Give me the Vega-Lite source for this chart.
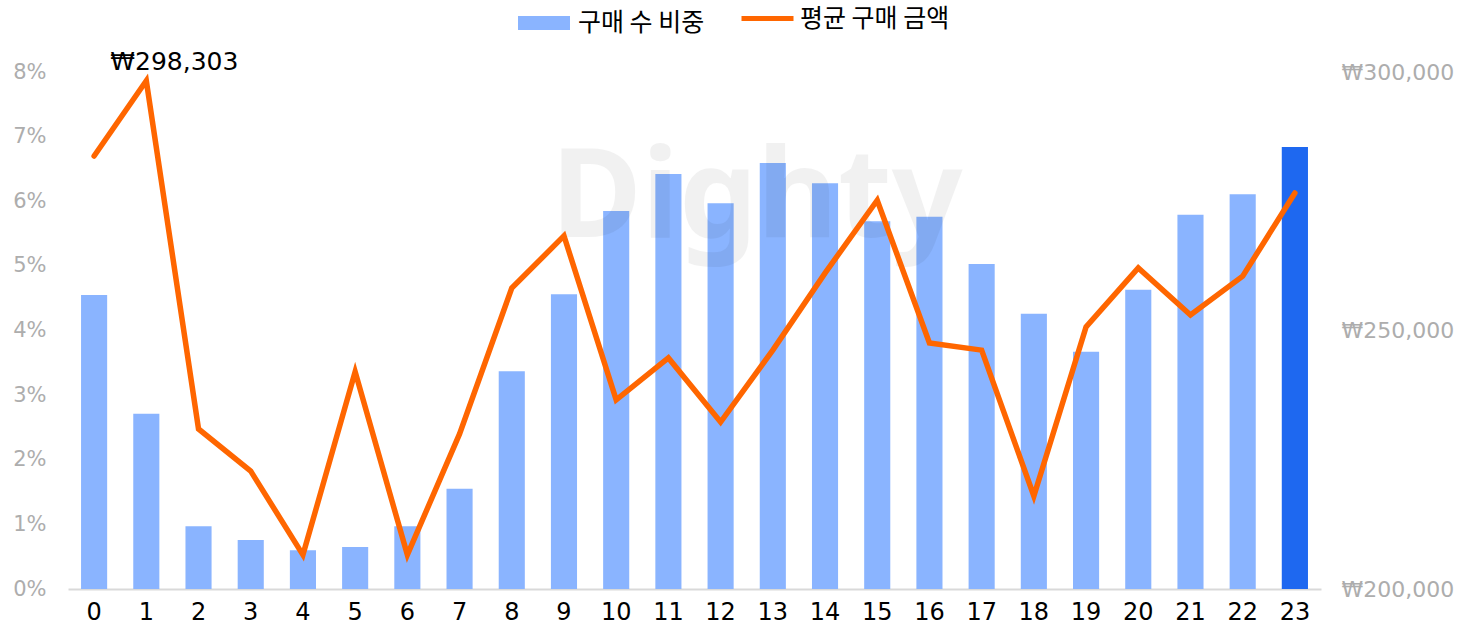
{
  "$schema": "https://vega.github.io/schema/vega-lite/v6.json",
  "width": 1253,
  "height": 517,
  "autosize": {"type": "none"},
  "padding": {"left": 68, "top": 72, "right": 150, "bottom": 45},
  "background": "#ffffff",
  "config": {
    "font": "DejaVu Sans",
    "view": {"stroke": null},
    "legend": {"padding": 0, "labelLimit": 400}
  },
  "data": {
    "values": [
      {"hour": 0, "share": 0.0455, "avg": 283750, "label": "", "s1": "구매 수 비중", "s2": "평균 구매 금액"},
      {"hour": 1, "share": 0.0271, "avg": 298303, "label": "₩298,303", "s1": "구매 수 비중", "s2": "평균 구매 금액"},
      {"hour": 2, "share": 0.0097, "avg": 230950, "label": "", "s1": "구매 수 비중", "s2": "평균 구매 금액"},
      {"hour": 3, "share": 0.0076, "avg": 222800, "label": "", "s1": "구매 수 비중", "s2": "평균 구매 금액"},
      {"hour": 4, "share": 0.0060, "avg": 206600, "label": "", "s1": "구매 수 비중", "s2": "평균 구매 금액"},
      {"hour": 5, "share": 0.0065, "avg": 242000, "label": "", "s1": "구매 수 비중", "s2": "평균 구매 금액"},
      {"hour": 6, "share": 0.0097, "avg": 206600, "label": "", "s1": "구매 수 비중", "s2": "평균 구매 금액"},
      {"hour": 7, "share": 0.0155, "avg": 230000, "label": "", "s1": "구매 수 비중", "s2": "평균 구매 금액"},
      {"hour": 8, "share": 0.0337, "avg": 258200, "label": "", "s1": "구매 수 비중", "s2": "평균 구매 금액"},
      {"hour": 9, "share": 0.0456, "avg": 268300, "label": "", "s1": "구매 수 비중", "s2": "평균 구매 금액"},
      {"hour": 10, "share": 0.0585, "avg": 236600, "label": "", "s1": "구매 수 비중", "s2": "평균 구매 금액"},
      {"hour": 11, "share": 0.0642, "avg": 244700, "label": "", "s1": "구매 수 비중", "s2": "평균 구매 금액"},
      {"hour": 12, "share": 0.0597, "avg": 232300, "label": "", "s1": "구매 수 비중", "s2": "평균 구매 금액"},
      {"hour": 13, "share": 0.0659, "avg": 246200, "label": "", "s1": "구매 수 비중", "s2": "평균 구매 금액"},
      {"hour": 14, "share": 0.0628, "avg": 261100, "label": "", "s1": "구매 수 비중", "s2": "평균 구매 금액"},
      {"hour": 15, "share": 0.0569, "avg": 275200, "label": "", "s1": "구매 수 비중", "s2": "평균 구매 금액"},
      {"hour": 16, "share": 0.0576, "avg": 247600, "label": "", "s1": "구매 수 비중", "s2": "평균 구매 금액"},
      {"hour": 17, "share": 0.0503, "avg": 246200, "label": "", "s1": "구매 수 비중", "s2": "평균 구매 금액"},
      {"hour": 18, "share": 0.0426, "avg": 218000, "label": "", "s1": "구매 수 비중", "s2": "평균 구매 금액"},
      {"hour": 19, "share": 0.0367, "avg": 250700, "label": "", "s1": "구매 수 비중", "s2": "평균 구매 금액"},
      {"hour": 20, "share": 0.0463, "avg": 262100, "label": "", "s1": "구매 수 비중", "s2": "평균 구매 금액"},
      {"hour": 21, "share": 0.0579, "avg": 253000, "label": "", "s1": "구매 수 비중", "s2": "평균 구매 금액"},
      {"hour": 22, "share": 0.0611, "avg": 260500, "label": "", "s1": "구매 수 비중", "s2": "평균 구매 금액"},
      {"hour": 23, "share": 0.0684, "avg": 276600, "label": "", "s1": "구매 수 비중", "s2": "평균 구매 금액"}
    ]
  },
  "encoding": {
    "x": {
      "field": "hour",
      "type": "ordinal",
      "scale": {"paddingInner": 0.5, "paddingOuter": 0.25},
      "axis": {
        "title": null,
        "labelAngle": 0,
        "labelColor": "#000000",
        "labelFontSize": 24,
        "labelPadding": 11,
        "ticks": false,
        "domainColor": "#D9D9D9",
        "domainWidth": 2,
        "grid": false
      }
    }
  },
  "layer": [
    {
      "mark": {"type": "bar"},
      "encoding": {
        "y": {
          "field": "share",
          "type": "quantitative",
          "scale": {"domain": [0, 0.08], "nice": false},
          "axis": {
            "title": null,
            "values": [0, 0.01, 0.02, 0.03, 0.04, 0.05, 0.06, 0.07, 0.08],
            "format": ".0%",
            "labelColor": "#ADADAD",
            "labelFontSize": 21,
            "labelPadding": 22,
            "ticks": false,
            "domain": false,
            "grid": false
          }
        },
        "fill": {
          "field": "s1",
          "type": "nominal",
          "scale": {"domain": ["구매 수 비중"], "range": ["#8AB4FF"]},
          "legend": {
            "title": null,
            "orient": "none",
            "legendX": 443,
            "legendY": -82,
            "symbolType": "stroke",
            "symbolSize": 2704,
            "labelFont": "Noto Sans CJK KR",
            "labelFontSize": 25,
            "labelColor": "#000000",
            "labelOffset": 1,
            "encode": {
              "symbols": {
                "update": {
                  "stroke": {"value": "#8AB4FF"},
                  "strokeWidth": {"value": 14},
                  "strokeCap": {"value": "butt"}
                }
              }
            }
          }
        }
      }
    },
    {
      "transform": [{"filter": "datum.hour == 23"}],
      "mark": {"type": "bar", "color": "#1E68F0"},
      "encoding": {
        "y": {
          "field": "share",
          "type": "quantitative",
          "scale": {"domain": [0, 0.08], "nice": false},
          "axis": null
        }
      }
    },
    {
      "data": {"values": [{"wm": "Dighty", "hx": 13, "wy": 0.0545}]},
      "mark": {
        "type": "text",
        "font": "Noto Sans",
        "fontWeight": "bold",
        "fontSize": 124,
        "align": "center",
        "baseline": "alphabetic",
        "dx": -16,
        "color": "#000000",
        "opacity": 0.05
      },
      "encoding": {
        "x": {"field": "hx", "type": "ordinal"},
        "y": {
          "field": "wy",
          "type": "quantitative",
          "scale": {"domain": [0, 0.08], "nice": false},
          "axis": null
        },
        "text": {"field": "wm"}
      }
    },
    {
      "mark": {
        "type": "line",
        "strokeWidth": 5.5,
        "strokeCap": "round",
        "strokeJoin": "miter"
      },
      "encoding": {
        "y": {
          "field": "avg",
          "type": "quantitative",
          "scale": {"domain": [200000, 300000], "nice": false},
          "axis": {
            "orient": "right",
            "title": null,
            "values": [200000, 250000, 300000],
            "labelExpr": "'₩' + format(datum.value, ',')",
            "labelColor": "#ADADAD",
            "labelFontSize": 22,
            "labelPadding": 20,
            "ticks": false,
            "domain": false,
            "grid": false
          }
        },
        "stroke": {
          "field": "s2",
          "type": "nominal",
          "scale": {"domain": ["평균 구매 금액"], "range": ["#FF6600"]},
          "legend": {
            "title": null,
            "orient": "none",
            "legendX": 671,
            "legendY": -82,
            "symbolType": "stroke",
            "symbolSize": 2704,
            "symbolStrokeWidth": 5,
            "labelFont": "Noto Sans CJK KR",
            "labelFontSize": 25,
            "labelColor": "#000000",
            "labelOffset": 4
          }
        }
      }
    },
    {
      "transform": [{"filter": "datum.label != ''"}],
      "mark": {
        "type": "text",
        "fontSize": 25,
        "color": "#000000",
        "align": "center",
        "baseline": "alphabetic",
        "dx": 28,
        "dy": -11
      },
      "encoding": {
        "y": {
          "field": "avg",
          "type": "quantitative",
          "scale": {"domain": [200000, 300000], "nice": false},
          "axis": null
        },
        "text": {"field": "label"}
      }
    }
  ],
  "resolve": {"scale": {"y": "independent", "fill": "independent", "stroke": "independent"}, "legend": {"fill": "independent", "stroke": "independent"}}
}
